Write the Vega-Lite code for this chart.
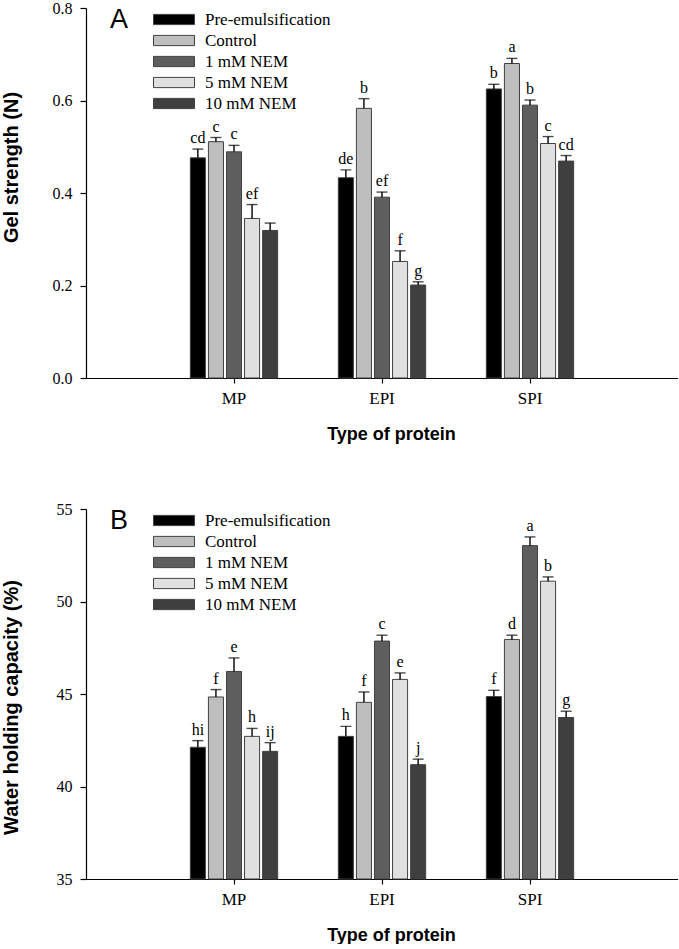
{
  "$schema": "https://vega.github.io/schema/vega-lite/v6.json",
  "padding": {"left": 1, "top": 0, "right": 0, "bottom": 0},
  "background": "white",
  "config": {
    "view": {"stroke": null},
    "axis": {
      "grid": false,
      "domainColor": "black",
      "domainWidth": 1.2,
      "tickColor": "black",
      "tickWidth": 1.2,
      "labelColor": "black",
      "titleColor": "black",
      "labelFont": "Liberation Serif",
      "titleFont": "Liberation Sans",
      "titleFontWeight": "bold"
    },
    "text": {"font": "Liberation Serif", "fontSize": 16, "color": "black"}
  },
  "datasets": {
    "gel": [
      {"protein": "MP", "treatment": "Pre-emulsification", "mean": 0.476, "upper": 0.495, "letter": "cd"},
      {"protein": "MP", "treatment": "Control", "mean": 0.511, "upper": 0.520, "letter": "c"},
      {"protein": "MP", "treatment": "1 mM NEM", "mean": 0.489, "upper": 0.503, "letter": "c"},
      {"protein": "MP", "treatment": "5 mM NEM", "mean": 0.345, "upper": 0.375, "letter": "ef"},
      {"protein": "MP", "treatment": "10 mM NEM", "mean": 0.319, "upper": 0.335, "letter": ""},
      {"protein": "EPI", "treatment": "Pre-emulsification", "mean": 0.433, "upper": 0.450, "letter": "de"},
      {"protein": "EPI", "treatment": "Control", "mean": 0.583, "upper": 0.604, "letter": "b"},
      {"protein": "EPI", "treatment": "1 mM NEM", "mean": 0.391, "upper": 0.402, "letter": "ef"},
      {"protein": "EPI", "treatment": "5 mM NEM", "mean": 0.252, "upper": 0.275, "letter": "f"},
      {"protein": "EPI", "treatment": "10 mM NEM", "mean": 0.201, "upper": 0.208, "letter": "g"},
      {"protein": "SPI", "treatment": "Pre-emulsification", "mean": 0.625, "upper": 0.635, "letter": "b"},
      {"protein": "SPI", "treatment": "Control", "mean": 0.680, "upper": 0.691, "letter": "a"},
      {"protein": "SPI", "treatment": "1 mM NEM", "mean": 0.590, "upper": 0.601, "letter": "b"},
      {"protein": "SPI", "treatment": "5 mM NEM", "mean": 0.507, "upper": 0.522, "letter": "c"},
      {"protein": "SPI", "treatment": "10 mM NEM", "mean": 0.469, "upper": 0.481, "letter": "cd"}
    ],
    "whc": [
      {"protein": "MP", "treatment": "Pre-emulsification", "mean": 42.12, "upper": 42.48, "letter": "hi"},
      {"protein": "MP", "treatment": "Control", "mean": 44.84, "upper": 45.24, "letter": "f"},
      {"protein": "MP", "treatment": "1 mM NEM", "mean": 46.22, "upper": 46.95, "letter": "e"},
      {"protein": "MP", "treatment": "5 mM NEM", "mean": 42.71, "upper": 43.14, "letter": "h"},
      {"protein": "MP", "treatment": "10 mM NEM", "mean": 41.90, "upper": 42.37, "letter": "ij"},
      {"protein": "EPI", "treatment": "Pre-emulsification", "mean": 42.71, "upper": 43.25, "letter": "h"},
      {"protein": "EPI", "treatment": "Control", "mean": 44.55, "upper": 45.11, "letter": "f"},
      {"protein": "EPI", "treatment": "1 mM NEM", "mean": 47.86, "upper": 48.18, "letter": "c"},
      {"protein": "EPI", "treatment": "5 mM NEM", "mean": 45.79, "upper": 46.14, "letter": "e"},
      {"protein": "EPI", "treatment": "10 mM NEM", "mean": 41.18, "upper": 41.48, "letter": "j"},
      {"protein": "SPI", "treatment": "Pre-emulsification", "mean": 44.86, "upper": 45.20, "letter": "f"},
      {"protein": "SPI", "treatment": "Control", "mean": 47.95, "upper": 48.18, "letter": "d"},
      {"protein": "SPI", "treatment": "1 mM NEM", "mean": 53.02, "upper": 53.49, "letter": "a"},
      {"protein": "SPI", "treatment": "5 mM NEM", "mean": 51.10, "upper": 51.33, "letter": "b"},
      {"protein": "SPI", "treatment": "10 mM NEM", "mean": 43.73, "upper": 44.07, "letter": "g"}
    ]
  },
  "spacing": 58,
  "resolve": {"scale": {"color": "independent"}, "legend": {"color": "independent"}},
  "vconcat": [
    {
      "width": 592,
      "height": 370,
      "data": {"name": "gel"},
      "encoding": {
        "x": {
          "field": "protein",
          "type": "nominal",
          "sort": ["MP", "EPI", "SPI"],
          "scale": {"paddingInner": 0.41, "paddingOuter": 0.705},
          "axis": {
            "title": "Type of protein",
            "labelAngle": 0,
            "labelFontSize": 17,
            "labelPadding": 7,
            "tickSize": 5,
            "titleFontSize": 18,
            "titlePadding": 19,
            "titleX": 305
          }
        },
        "xOffset": {
          "field": "treatment",
          "type": "nominal",
          "sort": ["Pre-emulsification", "Control", "1 mM NEM", "5 mM NEM", "10 mM NEM"],
          "scale": {"paddingInner": 0.167, "paddingOuter": 0}
        }
      },
      "layer": [
        {
          "mark": {"type": "bar", "stroke": "#404040", "strokeWidth": 1},
          "encoding": {
            "y": {
              "field": "mean",
              "type": "quantitative",
              "title": "Gel strength (N)",
              "scale": {"domain": [0, 0.8], "nice": false, "padding": 0},
              "axis": {
                "values": [0, 0.2, 0.4, 0.6, 0.8],
                "format": ".1f",
                "labelFontSize": 16,
                "labelPadding": 8,
                "tickSize": 6,
                "titleFontSize": 20,
                "titleAngle": 270,
                "titleAlign": "center",
                "titleBaseline": "middle",
                "titleX": -75,
                "titleY": 159
              }
            },
            "color": {
              "field": "treatment",
              "type": "nominal",
              "sort": ["Pre-emulsification", "Control", "1 mM NEM", "5 mM NEM", "10 mM NEM"],
              "scale": {
                "domain": ["Pre-emulsification", "Control", "1 mM NEM", "5 mM NEM", "10 mM NEM"],
                "range": ["#000000", "#bebebe", "#5e5e5e", "#e0e0e0", "#3f3f3f"]
              },
              "legend": {
                "orient": "none",
                "legendX": 24,
                "legendY": -1,
                "title": "A",
                "titleOrient": "left",
                "titleAnchor": "start",
                "titleBaseline": "top",
                "titleFont": "Liberation Sans",
                "titleFontSize": 27,
                "titleFontWeight": "normal",
                "titleColor": "black",
                "titlePadding": 32.5,
                "labelFont": "Liberation Serif",
                "labelFontSize": 17,
                "labelColor": "black",
                "labelOffset": 18.5,
                "symbolType": "M-1.708,-0.427L1.708,-0.427L1.708,0.427L-1.708,0.427Z",
                "symbolSize": 576,
                "symbolStrokeColor": "#404040",
                "symbolStrokeWidth": 1,
                "symbolOpacity": 1,
                "rowPadding": 0
              }
            }
          }
        },
        {
          "mark": {"type": "rule", "color": "black", "strokeWidth": 1.4},
          "encoding": {
            "y": {"field": "mean", "type": "quantitative", "title": "Gel strength (N)"},
            "y2": {"field": "upper"}
          }
        },
        {
          "mark": {"type": "tick", "color": "black", "size": 11, "thickness": 1.4, "orient": "horizontal"},
          "encoding": {
            "y": {"field": "upper", "type": "quantitative", "title": "Gel strength (N)"}
          }
        },
        {
          "mark": {"type": "text", "baseline": "bottom", "dy": -3},
          "encoding": {
            "y": {"field": "upper", "type": "quantitative", "title": "Gel strength (N)"},
            "text": {"field": "letter"}
          }
        }
      ]
    },
    {
      "width": 592,
      "height": 370,
      "data": {"name": "whc"},
      "encoding": {
        "x": {
          "field": "protein",
          "type": "nominal",
          "sort": ["MP", "EPI", "SPI"],
          "scale": {"paddingInner": 0.41, "paddingOuter": 0.705},
          "axis": {
            "title": "Type of protein",
            "labelAngle": 0,
            "labelFontSize": 17,
            "labelPadding": 7,
            "tickSize": 5,
            "titleFontSize": 18,
            "titlePadding": 19,
            "titleX": 305
          }
        },
        "xOffset": {
          "field": "treatment",
          "type": "nominal",
          "sort": ["Pre-emulsification", "Control", "1 mM NEM", "5 mM NEM", "10 mM NEM"],
          "scale": {"paddingInner": 0.167, "paddingOuter": 0}
        }
      },
      "layer": [
        {
          "mark": {"type": "bar", "stroke": "#404040", "strokeWidth": 1},
          "encoding": {
            "y": {
              "field": "mean",
              "type": "quantitative",
              "title": "Water holding capacity (%)",
              "scale": {"domain": [35, 55], "zero": false, "nice": false, "padding": 0},
              "axis": {
                "values": [35, 40, 45, 50, 55],
                "labelFontSize": 16,
                "labelPadding": 8,
                "tickSize": 6,
                "titleFontSize": 20,
                "titleAngle": 270,
                "titleAlign": "center",
                "titleBaseline": "middle",
                "titleX": -75,
                "titleY": 198
              }
            },
            "y2": {"datum": 35},
            "color": {
              "field": "treatment",
              "type": "nominal",
              "sort": ["Pre-emulsification", "Control", "1 mM NEM", "5 mM NEM", "10 mM NEM"],
              "scale": {
                "domain": ["Pre-emulsification", "Control", "1 mM NEM", "5 mM NEM", "10 mM NEM"],
                "range": ["#000000", "#bebebe", "#5e5e5e", "#e0e0e0", "#3f3f3f"]
              },
              "legend": {
                "orient": "none",
                "legendX": 24,
                "legendY": -1,
                "title": "B",
                "titleOrient": "left",
                "titleAnchor": "start",
                "titleBaseline": "top",
                "titleFont": "Liberation Sans",
                "titleFontSize": 27,
                "titleFontWeight": "normal",
                "titleColor": "black",
                "titlePadding": 32.5,
                "labelFont": "Liberation Serif",
                "labelFontSize": 17,
                "labelColor": "black",
                "labelOffset": 18.5,
                "symbolType": "M-1.708,-0.427L1.708,-0.427L1.708,0.427L-1.708,0.427Z",
                "symbolSize": 576,
                "symbolStrokeColor": "#404040",
                "symbolStrokeWidth": 1,
                "symbolOpacity": 1,
                "rowPadding": 0
              }
            }
          }
        },
        {
          "mark": {"type": "rule", "color": "black", "strokeWidth": 1.4},
          "encoding": {
            "y": {"field": "mean", "type": "quantitative", "title": "Water holding capacity (%)"},
            "y2": {"field": "upper"}
          }
        },
        {
          "mark": {"type": "tick", "color": "black", "size": 11, "thickness": 1.4, "orient": "horizontal"},
          "encoding": {
            "y": {"field": "upper", "type": "quantitative", "title": "Water holding capacity (%)"}
          }
        },
        {
          "mark": {"type": "text", "baseline": "bottom", "dy": -3},
          "encoding": {
            "y": {"field": "upper", "type": "quantitative", "title": "Water holding capacity (%)"},
            "text": {"field": "letter"}
          }
        }
      ]
    }
  ]
}
